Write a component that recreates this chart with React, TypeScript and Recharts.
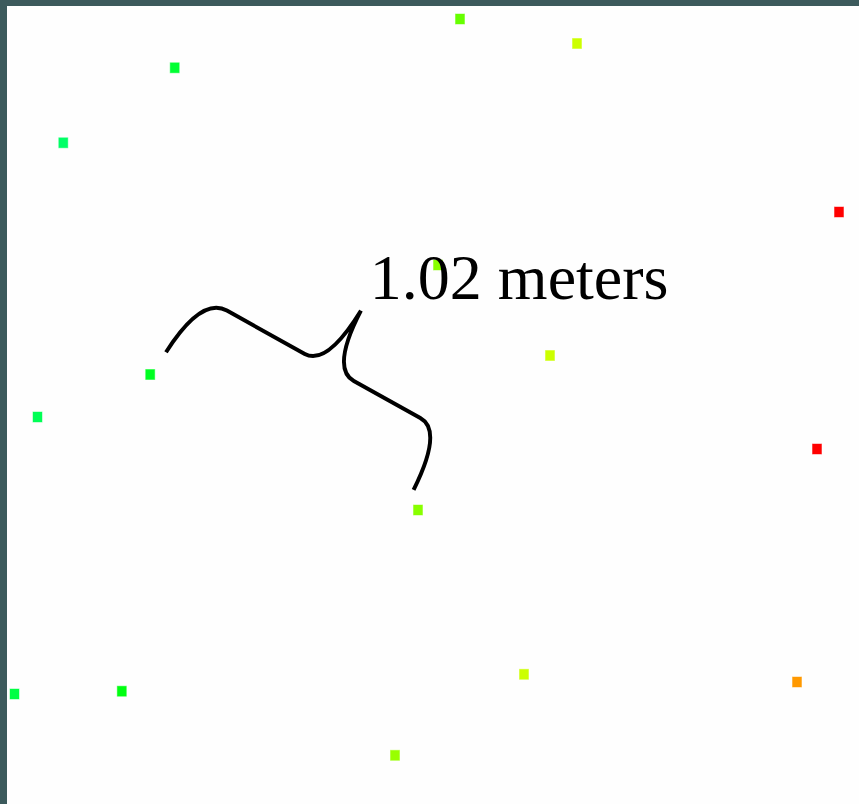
import { Cell, Scatter, ScatterChart, XAxis, YAxis } from "recharts";

// sample positions in plot units (x right, y down)
const SAMPLE_X = [453, 570, 167.7, 56.3, 832, 431, 543, 143.2, 30.5, 810, 411, 517, 790, 7.5, 114.8, 388];
const SAMPLE_Y = [13, 37.5, 61.8, 136.8, 206, 259, 349.5, 368.5, 411, 443, 504, 668.3, 676, 688, 685.2, 749.3];
const SAMPLE_COLORS = [
  "#66ff00", "#ccff00", "#00ff33", "#00ff66", "#ff0000", "#88ff00", "#ccff00", "#00ff22",
  "#00ff55", "#ff0000", "#88ff00", "#ccff00", "#ff9900", "#00ff44", "#00ff11", "#99ff00",
];

// the two samples that the brace measures
const MEASURED = [7, 10];
const MEASURE_LABEL = "1.02 meters";

const W = 852;
const H = 798;

const points = SAMPLE_X.map((x, i) => ({ x, y: SAMPLE_Y[i] }));
const measured = MEASURED.map((i) => points[i]);

function Square(props: any) {
  const { cx, cy, fill } = props;
  if (cx == null || cy == null) return <g />;
  return (
    <rect
      x={cx - 4.5}
      y={cy - 5}
      width={9}
      height={10}
      fill={fill}
      stroke={fill}
      strokeOpacity={0.45}
      strokeWidth={1}
    />
  );
}

function Brace(props: any) {
  const pts = props.points || [];
  if (pts.length < 2) return <g />;
  const a = pts[0];
  const b = pts[1];
  const dx = b.x - a.x;
  const dy = b.y - a.y;
  const len0 = Math.hypot(dx, dy);
  const u0 = [dx / len0, dy / len0];
  const v0 = [u0[1], -u0[0]];
  const start = [a.x + 4 * u0[0] + 27 * v0[0], a.y + 4 * u0[1] + 27 * v0[1]];
  const end = [b.x - 13 * u0[0] + 16 * v0[0], b.y - 13 * u0[1] + 16 * v0[1]];
  const ex = end[0] - start[0];
  const ey = end[1] - start[1];
  const L = Math.hypot(ex, ey);
  const u = [ex / L, ey / L];
  const v = [u[1], -u[0]];
  const P = (s: number, h: number) =>
    `${(start[0] + s * u[0] + h * v[0]).toFixed(1)},${(start[1] + s * u[1] + h * v[1]).toFixed(1)}`;
  const mid = L / 2 + 8.5;
  const d = [
    `M${P(0, 0)}`,
    `Q${P(4, 66)} ${P(33, 66)}`,
    `L${P(mid - 28, 66)}`,
    `Q${P(mid - 3, 66)} ${P(mid, 131)}`,
    `Q${P(mid + 2, 66)} ${P(mid + 28, 66)}`,
    `L${P(L - 29, 66)}`,
    `Q${P(L - 3, 66)} ${P(L, 0)}`,
  ].join(" ");
  const tipX = start[0] + mid * u[0] + 131 * v[0];
  const tipY = start[1] + mid * u[1] + 131 * v[1];
  return (
    <g>
      <path d={d} fill="none" stroke="#000" strokeWidth={4} strokeLinecap="butt" />
      <text
        x={tipX + 9}
        y={tipY - 12}
        fontFamily="'Liberation Serif', 'DejaVu Serif', serif"
        fontSize={64}
        fill="#000"
      >
        {MEASURE_LABEL}
      </text>
    </g>
  );
}

export default function App() {
  return (
    <div
      style={{
        position: "absolute",
        left: 0,
        top: 0,
        width: 859,
        height: 804,
        background: "#3c5a5c",
        overflow: "hidden",
      }}
    >
      <div
        style={{
          position: "absolute",
          left: 7,
          top: 6,
          width: W,
          height: H,
          background: "#fefefe",
        }}
      >
        <ScatterChart width={W} height={H} margin={{ top: 0, right: 0, bottom: 0, left: 0 }}>
          <XAxis type="number" dataKey="x" domain={[0, W]} hide allowDataOverflow />
          <YAxis type="number" dataKey="y" domain={[0, H]} reversed hide allowDataOverflow />
          <Scatter data={points} shape={Square} isAnimationActive={false}>
            {points.map((_, i) => (
              <Cell key={i} fill={SAMPLE_COLORS[i]} />
            ))}
          </Scatter>
          <Scatter
            data={measured}
            shape={() => <g />}
            line={Brace}
            lineType="joint"
            isAnimationActive={false}
          />
        </ScatterChart>
      </div>
    </div>
  );
}
